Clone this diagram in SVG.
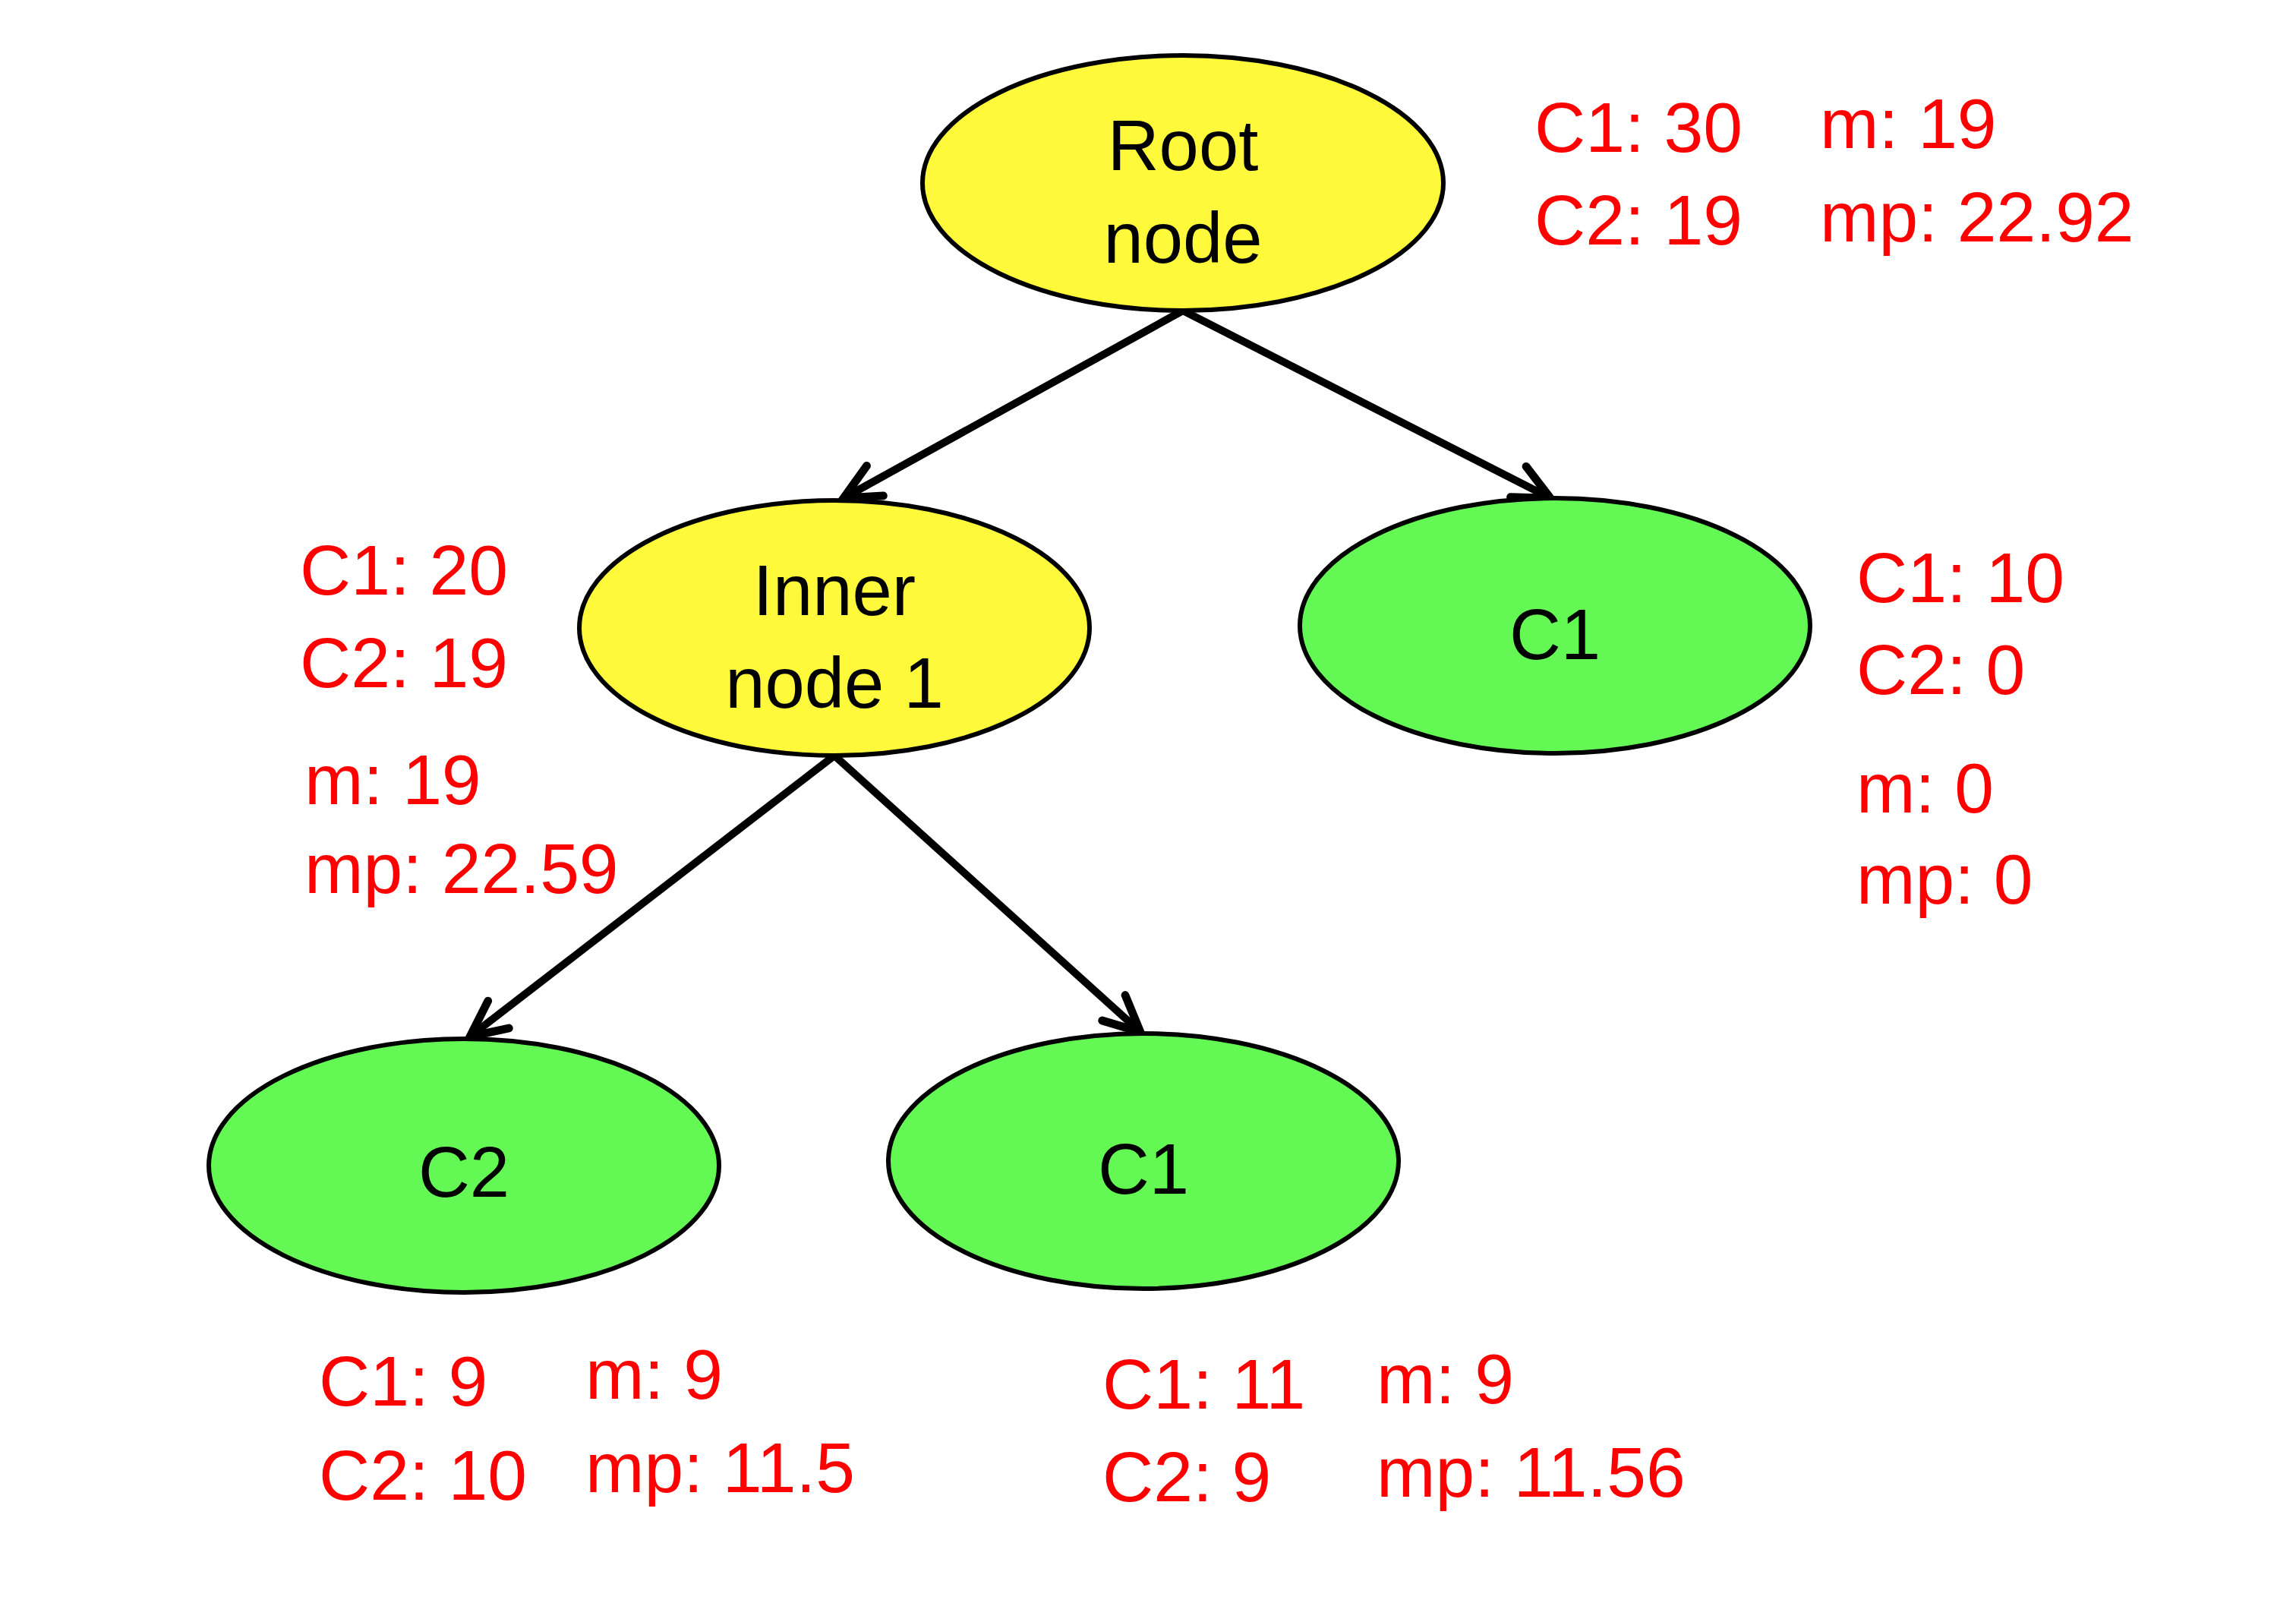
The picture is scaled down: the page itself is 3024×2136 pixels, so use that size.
<svg xmlns="http://www.w3.org/2000/svg" width="3024" height="2136" viewBox="0 0 3024 2136">
<style>
.inner{fill:#FFF93B;stroke:#000;stroke-width:6}
.leaf{fill:#63F853;stroke:#000;stroke-width:6}
.lbl{font-family:"Liberation Sans",Arial,sans-serif;font-size:94px;fill:#000;text-anchor:middle}
.red{font-family:"Liberation Sans",Arial,sans-serif;font-size:93px;fill:#FF0000}
.edge{stroke:#000;stroke-width:10;fill:none;marker-end:url(#arr)}
</style>
<defs>
<marker id="arr" markerUnits="userSpaceOnUse" markerWidth="70" markerHeight="70" viewBox="-55 -30 65 60" refX="0" refY="0" orient="auto">
<path d="M-44,-21 L0,0 L-44,21" fill="none" stroke="#000" stroke-width="10" stroke-linejoin="miter" stroke-linecap="round"/>
</marker>
</defs>
<rect width="3024" height="2136" fill="#fff"/>
<g id="connectors">
<line class="edge" x1="1558" y1="409" x2="1111" y2="656"/>
<line class="edge" x1="1558" y1="409" x2="2042" y2="656"/>
<line class="edge" x1="1099" y1="995" x2="619" y2="1365"/>
<line class="edge" x1="1099" y1="995" x2="1502" y2="1359"/>
</g>
<g id="root">
<ellipse class="inner" cx="1558" cy="241" rx="343" ry="168"/>
<text class="lbl" x="1558" y="224">Root</text>
<text class="lbl" x="1558" y="346">node</text>
<text class="red" x="2021" y="200">C1: 30</text>
<text class="red" x="2021" y="322">C2: 19</text>
<text class="red" x="2397" y="195">m: 19</text>
<text class="red" x="2397" y="318">mp: 22.92</text>
</g>
<g id="inner1">
<ellipse class="inner" cx="1099" cy="827" rx="336" ry="168"/>
<text class="lbl" x="1099" y="810">Inner</text>
<text class="lbl" x="1099" y="932">node 1</text>
<text class="red" x="395" y="783">C1: 20</text>
<text class="red" x="395" y="905">C2: 19</text>
<text class="red" x="401" y="1059">m: 19</text>
<text class="red" x="401" y="1176">mp: 22.59</text>
</g>
<g id="leafRight">
<ellipse class="leaf" cx="2048" cy="824" rx="336" ry="168"/>
<text class="lbl" x="2048" y="868">C1</text>
<text class="red" x="2445" y="793">C1: 10</text>
<text class="red" x="2445" y="914">C2: 0</text>
<text class="red" x="2445" y="1070">m: 0</text>
<text class="red" x="2445" y="1190">mp: 0</text>
</g>
<g id="leafC2">
<ellipse class="leaf" cx="611" cy="1535" rx="336" ry="167"/>
<text class="lbl" x="611" y="1576">C2</text>
<text class="red" x="420" y="1851">C1: 9</text>
<text class="red" x="420" y="1975">C2: 10</text>
<text class="red" x="771" y="1842">m: 9</text>
<text class="red" x="771" y="1965">mp: 11.5</text>
</g>
<g id="leafC1">
<ellipse class="leaf" cx="1506" cy="1529" rx="336" ry="168"/>
<text class="lbl" x="1506" y="1572">C1</text>
<text class="red" x="1452" y="1855">C1: 11</text>
<text class="red" x="1452" y="1977">C2: 9</text>
<text class="red" x="1813" y="1848">m: 9</text>
<text class="red" x="1813" y="1971">mp: 11.56</text>
</g>
</svg>
